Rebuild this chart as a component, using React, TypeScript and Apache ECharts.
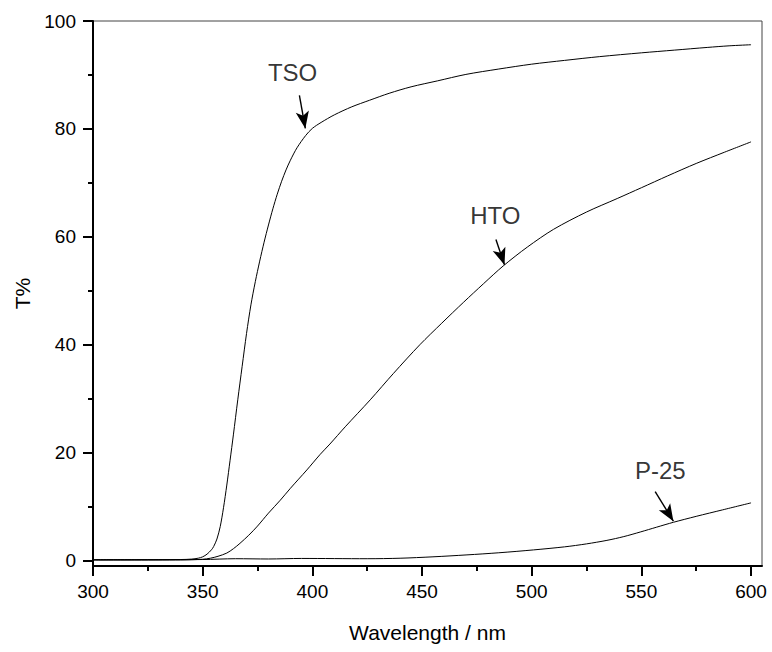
import React, { useEffect, useRef } from 'react';
import * as echarts from 'echarts';

// Wavelength (nm) / transmittance (%)
const tsoWavelength = [300, 320, 340, 345, 348, 350, 352, 354, 355, 356.5, 358, 359.5, 361, 362.5, 364, 366, 368, 370, 372, 374, 376, 378, 380, 382, 384, 386, 388, 390, 393, 397, 400, 404, 410, 418, 426, 435, 445, 457, 470, 485, 500, 515, 531, 550, 565, 580, 590, 600];
const tsoT = [0.18, 0.18, 0.2, 0.28, 0.45, 0.7, 1.2, 2.0, 2.6, 4.0, 6.3, 9.8, 14, 18.6, 23.3, 29.8, 36, 42.1, 47.4, 51.7, 55.5, 59.0, 62.2, 65.2, 67.9, 70.3, 72.4, 74.2, 76.5, 78.8, 80.1, 81.2, 82.6, 84.1, 85.3, 86.6, 87.8, 88.9, 90.1, 91.1, 92, 92.7, 93.4, 94.1, 94.6, 95.1, 95.4, 95.6];

const htoWavelength = [300, 340, 350, 353.5, 357, 361, 364, 367, 371, 375, 380, 385.4, 390, 397.5, 403.6, 408, 415, 426.4, 437, 449, 459, 469, 478, 487, 498, 510, 525, 539, 550, 562, 575, 588, 600];
const htoT = [0.1, 0.12, 0.25, 0.44, 0.8, 1.4, 2.2, 3.2, 4.7, 6.4, 8.8, 11.2, 13.4, 16.8, 19.7, 21.6, 24.8, 29.8, 34.7, 40.0, 44.0, 47.9, 51.3, 54.6, 58.1, 61.4, 64.6, 67.1, 69.1, 71.3, 73.6, 75.7, 77.6];

const p25Wavelength = [300, 350, 365, 380, 395, 425, 440, 455, 470.5, 485, 500.8, 515, 525, 534.3, 542, 549.5, 557, 564.6, 575, 587, 600];
const p25T = [0.15, 0.2, 0.35, 0.3, 0.4, 0.35, 0.44, 0.7, 1.06, 1.45, 1.98, 2.55, 3.1, 3.75, 4.45, 5.3, 6.2, 7.1, 8.2, 9.4, 10.7];

const xMajorTicks = [300, 350, 400, 450, 500, 550, 600];
const xMinorTicks = [325, 375, 425, 475, 525, 575];
const yMajorTicks = [0, 20, 40, 60, 80, 100];
const yMinorTicks = [10, 30, 50, 70, 90];

// annotation labels and arrows (data coordinates)
const labelNames = ['TSO', 'HTO', 'P-25'];
const labelX = [391, 483.4, 558.6];
const labelY = [90.4, 64, 16.7];
const arrowFromX = [394.1, 483.7, 556.3];
const arrowFromY = [86.2, 59.5, 12.8];
const arrowToX = [396.8, 487.6, 564.6];
const arrowToY = [80.1, 54.8, 7.3];

const zip = (a: number[], b: number[]) => a.map((v, i) => [v, b[i]]);

export default function App() {
  const ref = useRef<HTMLDivElement>(null);
  useEffect(() => {
    if (!ref.current) return;
    const chart = echarts.init(ref.current, undefined, { renderer: 'svg' });
    const font = 'Liberation Sans, Arial, sans-serif';
    const lineStyle = { color: '#000', width: 1 };
    const axisCommon = {
      axisLine: { show: false, onZero: false },
      splitLine: { show: false },
    };
    const curve = {
      type: 'line',
      showSymbol: false,
      symbol: 'none',
      smooth: 0.3,
      lineStyle,
      silent: true,
    };
    chart.setOption({
      animation: false,
      backgroundColor: '#fff',
      grid: {
        left: 93,
        top: 21,
        right: 10,
        bottom: 86,
        show: true,
        borderColor: '#444',
        borderWidth: 1,
      },
      xAxis: [
        {
          type: 'value',
          min: 300,
          max: 605,
          position: 'bottom',
          name: 'Wavelength / nm',
          nameLocation: 'middle',
          nameGap: 56,
          nameTextStyle: { fontFamily: font, fontSize: 21, color: '#000' },
          axisLine: { show: true, onZero: false, lineStyle: { color: '#000', width: 2 } },
          axisTick: { show: true, inside: false, length: 10, customValues: xMajorTicks, lineStyle: { color: '#000', width: 2 } },
          axisLabel: { show: true, margin: 16, customValues: xMajorTicks, fontFamily: font, fontSize: 19, color: '#000' },
          splitLine: { show: false },
        },
        {
          type: 'value',
          min: 300,
          max: 605,
          position: 'bottom',
          ...axisCommon,
          axisTick: { show: true, inside: false, length: 5, customValues: xMinorTicks, lineStyle: { color: '#000', width: 2 } },
          axisLabel: { show: false },
        },
      ],
      yAxis: [
        {
          type: 'value',
          min: -1,
          max: 100,
          position: 'left',
          name: 'T%',
          nameLocation: 'middle',
          nameGap: 52,
          nameRotate: 90,
          nameTextStyle: { fontFamily: font, fontSize: 21, color: '#000' },
          axisLine: { show: true, onZero: false, lineStyle: { color: '#000', width: 2 } },
          axisTick: { show: true, inside: false, length: 10, customValues: yMajorTicks, lineStyle: { color: '#000', width: 2 } },
          axisLabel: { show: true, margin: 17, customValues: yMajorTicks, fontFamily: font, fontSize: 19, color: '#000' },
          splitLine: { show: false },
        },
        {
          type: 'value',
          min: -1,
          max: 100,
          position: 'left',
          ...axisCommon,
          axisTick: { show: true, inside: false, length: 5, customValues: yMinorTicks, lineStyle: { color: '#000', width: 2 } },
          axisLabel: { show: false },
        },
      ],
      series: [
        {
          ...curve,
          name: 'TSO',
          data: zip(tsoWavelength, tsoT),
          markLine: {
            silent: true,
            symbol: ['none', 'arrow'],
            symbolSize: [10, 17],
            label: { show: false },
            lineStyle: { color: '#000', width: 1.4, type: 'solid' },
            data: arrowFromX.map((x, i) => [
              { coord: [x, arrowFromY[i]] },
              { coord: [arrowToX[i], arrowToY[i]] },
            ]),
          },
        },
        {
          ...curve,
          name: 'HTO',
          data: zip(htoWavelength, htoT),
        },
        {
          ...curve,
          name: 'P-25',
          data: zip(p25Wavelength, p25T),
        },
        {
          name: 'labels',
          type: 'scatter',
          data: labelNames.map((n, i) => [labelX[i], labelY[i], n]),
          symbolSize: 1,
          itemStyle: { color: 'rgba(0,0,0,0)' },
          silent: true,
          label: {
            show: true,
            position: 'inside',
            formatter: (p: any) => p.data[2],
            fontFamily: font,
            fontSize: 24,
            color: '#000',
          },
        },
      ],
    });
    return () => chart.dispose();
  }, []);
  return (
    <div
      ref={ref}
      style={{ position: 'absolute', left: 0, top: 0, width: 772, height: 652 }}
    />
  );
}
